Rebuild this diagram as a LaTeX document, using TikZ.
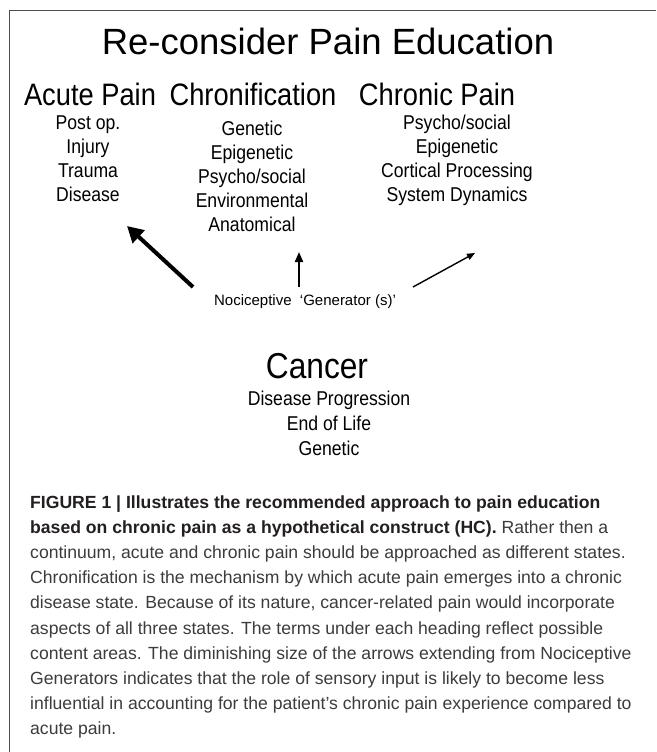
\documentclass[tikz,border=0pt]{standalone}
\usepackage{fontspec}
\setmainfont{Liberation Sans}
\newfontfamily\narrowsf[FakeStretch=0.88]{Liberation Sans}
\usetikzlibrary{arrows.meta, positioning}

\definecolor{capgray}{HTML}{3C3C3C}
\definecolor{capdark}{HTML}{231F20}

\begin{document}
\begin{tikzpicture}[x=1pt, y=-1pt,
  ttl/.style={font=\fontsize{36.5}{44}\selectfont, anchor=base, inner sep=0pt},
  head/.style={font=\narrowsf\fontsize{31}{36}\selectfont, anchor=base, inner sep=0pt},
  item/.style={font=\narrowsf\fontsize{20}{24}\selectfont, anchor=base, inner sep=0pt},
  gen/.style={font=\fontsize{15}{18}\selectfont, anchor=base, inner sep=0pt},
  captxt/.style={font=\fontsize{17.6}{25}\selectfont, anchor=base west,
              inner sep=0pt, text=capgray},
  arr/.style={line width=#1},
  frameline/.style={line width=1.5pt, black!70}]

  \useasboundingbox[fill=white] (0,0) rectangle (656,752);
  \draw[frameline] (9.5,752) -- (9.5,10.5) -- (656,10.5);

  % headings
  \node[ttl] (title) at (328,55) {Re-consider Pain Education};
  \node[head] (acute) at (90,105) {Acute Pain};
  \node[head] (chrono) at (253,105) {Chronification};
  \node[head] (chronic) at (437,105) {Chronic Pain};

  % content areas
  \foreach \t [count=\i] in {Post op., Injury, Trauma, Disease}
    \node[item] (acute\i) at (88,105+24*\i) {\t};
  \foreach \t [count=\i] in {Genetic, Epigenetic, Psycho/social,
                            Environmental, Anatomical}
    \node[item] (chrono\i) at (252,111+24*\i) {\t};
  \foreach \t [count=\i] in {Psycho/social, Epigenetic,
                            Cortical Processing, System Dynamics}
    \node[item] (chronic\i) at (457,105+24*\i) {\t};

  % generators
  \node[gen] (noci) at (305,305) {Nociceptive\ \ `Generator (s)'};
  \coordinate (lftail) at (193,287);
  \coordinate (lftip) at (127,226);
  \coordinate (midtail) at (299,287);
  \coordinate (midtip) at (299,252);
  \coordinate (rttail) at (413,287);
  \coordinate (rttip) at (475,253);
  \draw[arr=4pt, -{Triangle[length=16pt, width=17pt]}] (lftail) -- (lftip);
  \draw[arr=2pt, -{Triangle[length=10pt, width=8pt]}] (midtail) -- (midtip);
  \draw[arr=1.4pt, -{Triangle[length=8pt, width=6.5pt]}] (rttail) -- (rttip);

  % cancer
  \node[head, font=\narrowsf\fontsize{36}{42}\selectfont] (cancer) at (317,378) {Cancer};
  \foreach \t [count=\i] in {Disease Progression, End of Life, Genetic}
    \node[item] (cancer\i) at (329,380+25*\i) {\t};

  % caption
  \foreach \t [count=\i] in {
    {\color{capdark}\bfseries FIGURE 1 | Illustrates the recommended approach to pain education},
    {{\color{capdark}\bfseries based on chronic pain as a hypothetical construct (HC).} Rather then a},
    {continuum, acute and chronic pain should be approached as different states.},
    {Chronification is the mechanism by which acute pain emerges into a chronic},
    {disease state. Because of its nature, cancer-related pain would incorporate},
    {aspects of all three states. The terms under each heading reflect possible},
    {content areas. The diminishing size of the arrows extending from Nociceptive},
    {Generators indicates that the role of sensory input is likely to become less},
    {influential in accounting for the patient’s chronic pain experience compared to},
    {acute pain.}}
    \node[captxt] (cap\i) at (30,482.8+25.2*\i) {\t};
\end{tikzpicture}
\end{document}
